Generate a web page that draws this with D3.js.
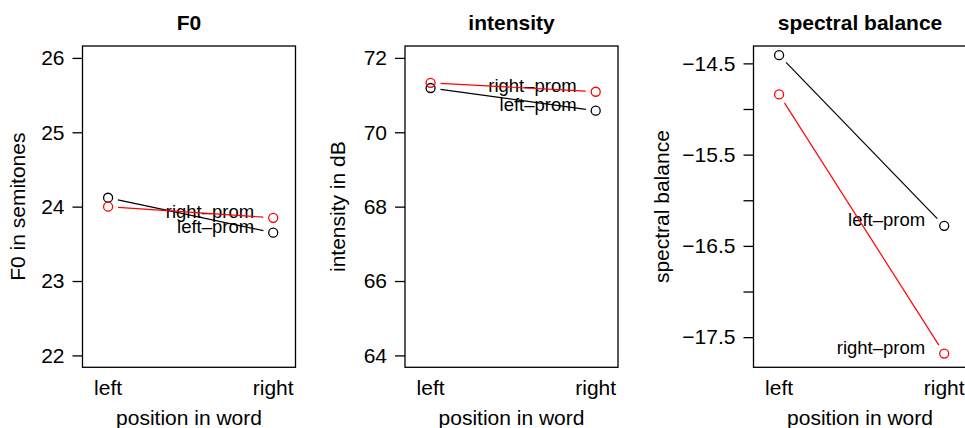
<!DOCTYPE html>
<html>
  <head>
    <meta charset="utf-8">
    <title>F0, intensity, spectral balance</title>
    <style>
      body { margin: 0; background: white; }
      svg { display: block; font-family: "Liberation Sans", Arial, sans-serif; }
      .box { fill: none; stroke: black; stroke-width: 1.3; }
      .tick line { stroke: black; stroke-width: 1.3; }
      text { fill: black; }
    </style>
  </head>
  <body>
    <svg width="965" height="428"></svg>
    <script src="https://d3js.org/d3.v7.min.js"></script>
    <script type="application/javascript">
      // categories
      const positions = ["left", "right"];
      const groups = ["left\u2013prom", "right\u2013prom"];
      const groupColors = ["black", "red"];

      // panel texts
      const titles = ["F0", "intensity", "spectral balance"];
      const yTitles = ["F0 in semitones", "intensity in dB", "spectral balance"];

      // values (left, right position)
      const f0LeftProm = [24.12, 23.65];
      const f0RightProm = [24.00, 23.85];
      const intLeftProm = [71.19, 70.58];
      const intRightProm = [71.33, 71.09];
      const specLeftProm = [-14.41, -16.28];
      const specRightProm = [-14.84, -17.68];

      // y limits and ticks
      const f0Lim = [22, 26];
      const intLim = [64, 72];
      const specLim = [-17.70, -14.44];
      const f0Ticks = [22, 23, 24, 25, 26];
      const intTicks = [64, 66, 68, 70, 72];
      const specTicks = [-17.5, -17, -16.5, -16, -15.5, -15, -14.5];
      const specTickLabels = [-17.5, -16.5, -15.5, -14.5];

      const panels = [
        { series: [f0LeftProm, f0RightProm], lim: f0Lim, ticks: f0Ticks, labels: f0Ticks, left: 82.5, ylabX: 25 },
        { series: [intLeftProm, intRightProm], lim: intLim, ticks: intTicks, labels: intTicks, left: 405, ylabX: 345 },
        { series: [specLeftProm, specRightProm], lim: specLim, ticks: specTicks, labels: specTickLabels, left: 753.5, ylabX: 669 }
      ];

      const svg = d3.select("svg");
      const boxTop = 46, boxBottom = 367.3, boxW = 213;
      const fmt = v => String(v).replace("-", "\u2212");

      panels.forEach((p, i) => {
        const g = svg.append("g");
        const ext = (p.lim[1] - p.lim[0]) * 0.04;
        const y = d3.scaleLinear().domain([p.lim[0] - ext, p.lim[1] + ext]).range([boxBottom, boxTop]);
        const x = d3.scalePoint().domain(positions).range([1, 2]);
        const xs = d3.scaleLinear().domain([0.845, 2.135]).range([p.left, p.left + boxW]);
        const px = c => xs(x(c));

        // y axis
        const yAxis = g.append("g")
          .attr("transform", `translate(${p.left},0)`)
          .call(d3.axisLeft(y).tickValues(p.ticks).tickSize(10).tickPadding(8)
            .tickFormat(v => p.labels.includes(v) ? fmt(v) : ""));
        yAxis.select(".domain").remove();
        yAxis.selectAll("text")
          .attr("font-size", 21)
          .attr("font-family", "Liberation Sans, Arial, sans-serif")
          .attr("fill", "black");

        // x tick labels (no ticks drawn)
        g.selectAll(".xlab")
          .data(positions)
          .enter()
            .append("text")
            .attr("x", d => px(d))
            .attr("y", 395)
            .attr("text-anchor", "middle")
            .attr("font-size", 21)
            .text(d => d);

        // box
        g.append("rect")
          .attr("class", "box")
          .attr("x", p.left)
          .attr("y", boxTop)
          .attr("width", boxW)
          .attr("height", boxBottom - boxTop);

        // titles
        g.append("text")
          .attr("x", p.left + boxW / 2)
          .attr("y", 30)
          .attr("text-anchor", "middle")
          .attr("font-size", 21)
          .attr("font-weight", "bold")
          .text(titles[i]);

        g.append("text")
          .attr("x", p.left + boxW / 2)
          .attr("y", 425)
          .attr("text-anchor", "middle")
          .attr("font-size", 21)
          .text("position in word");

        g.append("text")
          .attr("transform", `translate(${p.ylabX},${(boxTop + boxBottom) / 2}) rotate(-90)`)
          .attr("text-anchor", "middle")
          .attr("font-size", 21)
          .text(yTitles[i]);

        // group labels at the right point
        p.series.forEach((vals, k) => {
          g.append("text")
            .attr("x", px("right") - 19)
            .attr("y", y(vals[1]))
            .attr("text-anchor", "end")
            .attr("font-size", 18.5)
            .text(groups[k]);
        });

        // lines with gaps, then points
        p.series.forEach((vals, k) => {
          const x1 = px("left"), y1 = y(vals[0]);
          const x2 = px("right"), y2 = y(vals[1]);
          const len = Math.hypot(x2 - x1, y2 - y1);
          const gap = 10;
          const ux = (x2 - x1) / len, uy = (y2 - y1) / len;
          g.append("line")
            .attr("x1", x1 + ux * gap).attr("y1", y1 + uy * gap)
            .attr("x2", x2 - ux * gap).attr("y2", y2 - uy * gap)
            .attr("stroke", groupColors[k])
            .attr("stroke-width", 1.2);

          g.selectAll(null)
            .data(positions)
            .enter()
              .append("circle")
              .attr("cx", d => px(d))
              .attr("cy", (d, j) => y(vals[j]))
              .attr("r", 4.5)
              .attr("fill", "none")
              .attr("stroke", groupColors[k])
              .attr("stroke-width", 1.3);
        });
      });
    </script>
  </body>
</html>
